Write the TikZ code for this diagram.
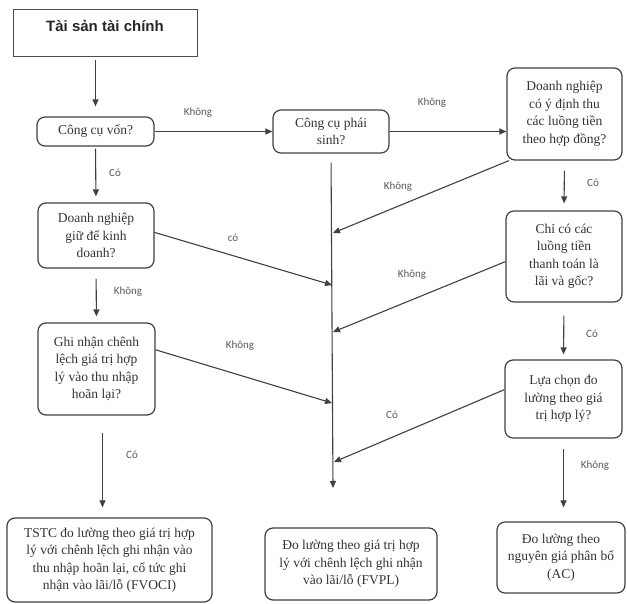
\documentclass[tikz,border=0pt]{standalone}
\usepackage{fontspec}
\setmainfont{Liberation Serif}
\newfontfamily\lblfont{Carlito}
\newfontfamily\headfont{Liberation Sans}
\usetikzlibrary{arrows.meta}
\tikzset{
	box/.style={draw=black!75, line width=1.2pt, rounded corners=8pt, inner sep=0pt, align=center, text=black!80, font=\fontsize{13.5}{17.5}\selectfont},
	headbox/.style={draw=black!70, line width=0.9pt, inner sep=0pt, text=black!85, font=\headfont\bfseries\fontsize{15}{18}\selectfont},
	lbl/.style={inner sep=0pt, text=black!65, font=\lblfont\fontsize{11}{13}\selectfont},
	arr/.style={draw=black!75, line width=1.1pt, -{Triangle[length=7pt,width=6pt]}},
}
\begin{document}
\begin{tikzpicture}[x=1pt, y=-1pt]
		%%%%% START %%%%%
		\useasboundingbox (0, 0) rectangle (627, 604);
		
		\node[headbox, minimum width=184pt, minimum height=47pt, text height=11pt, text depth=12pt] (title) at (105, 32.5) {Tài sản tài chính};
		
		\node[box, minimum width=117pt, minimum height=29pt] (vcv) at (95.5, 131.5) {Công cụ vốn?};
		\node[box, minimum width=116pt, minimum height=43pt] (ps) at (331, 131.5) {Công cụ phái\\sinh?};
		\node[box, minimum width=115pt, minimum height=92pt] (dnthu) at (564.5, 114) {Doanh nghiệp\\có ý định thu\\các luồng tiền\\theo hợp đồng?};
		
		\node[box, minimum width=116pt, minimum height=65pt] (dngiu) at (96, 235.5) {Doanh nghiệp\\giữ để kinh\\doanh?};
		\node[box, minimum width=116pt, minimum height=91pt] (chico) at (564, 256.5) {Chỉ có các\\luồng tiền\\thanh toán là\\lãi và gốc?};
		
		\node[box, minimum width=117pt, minimum height=92pt] (ghinhan) at (96.5, 369) {Ghi nhận chênh\\lệch giá trị hợp\\lý vào thu nhập\\hoãn lại?};
		\node[box, minimum width=117pt, minimum height=78pt] (luachon) at (563.5, 399) {Lựa chọn đo\\lường theo giá\\trị hợp lý?};
		
		\node[box, minimum width=205pt, minimum height=84pt] (tstc) at (109.5, 560) {TSTC đo lường theo giá trị hợp\\lý với chênh lệch ghi nhận vào\\thu nhập hoãn lại, cổ tức ghi\\nhận vào lãi/lỗ (FVOCI)};
		\node[box, minimum width=172pt, minimum height=72pt] (fvpl) at (351, 564) {Đo lường theo giá trị hợp\\lý với chênh lệch ghi nhận\\vào lãi/lỗ (FVPL)};
		\node[box, minimum width=128pt, minimum height=71pt] (ac) at (561, 557.5) {Đo lường theo\\nguyên giá phân bổ\\(AC)};
		
		% points on the trunk line
		\coordinate (j1) at (333, 233);
		\coordinate (j2) at (332, 285);
		\coordinate (j3) at (333, 332);
		\coordinate (j4) at (332, 403);
		\coordinate (j5) at (334, 462);
		\coordinate (vend) at (333, 488);
		
		\draw[arr, shorten <=4pt, shorten >=10pt] (title.south -| vcv.north) -- (vcv.north);
		\draw[arr] (vcv.east) -- (ps.west);
		\draw[arr] (ps.east) -- (ps.east -| dnthu.west);
		\draw[arr, shorten <=2pt, shorten >=6pt] (vcv.south) -- (dngiu.north);
		\draw[arr, shorten <=10pt, shorten >=6pt] (dngiu.south) -- (ghinhan.north);
		\draw[arr, shorten <=17pt, shorten >=10pt] ([xshift=6pt]ghinhan.south) -- ([xshift=6pt]ghinhan.south |- tstc.north);
		\draw[arr, shorten <=10pt, shorten >=7pt] (dnthu.south) -- (chico.north);
		\draw[arr, shorten <=13pt, shorten >=5pt] (chico.south) -- (luachon.north);
		\draw[arr, shorten <=10pt, shorten >=14pt] (luachon.south) -- (luachon.south |- ac.north);
		\draw[arr, shorten <=9pt] (ps.south) -- (vend);
		
		\draw[arr] (dnthu.220) -- (j1);
		\draw[arr] (dngiu.3) -- (j2);
		\draw[arr] (chico.185) -- (j3);
		\draw[arr] (ghinhan.18) -- (j4);
		\draw[arr] (luachon.171) -- (j5);
		
		\node[lbl] (lk1) at (198, 113) {Không};
		\node[lbl] (lk2) at (432, 103) {Không};
		\node[lbl] (lc1) at (115, 173) {Có};
		\node[lbl] (lk3) at (398, 187) {Không};
		\node[lbl] (lc2) at (593, 183) {Có};
		\node[lbl] (lc3) at (233, 238) {có};
		\node[lbl] (lk4) at (128, 292) {Không};
		\node[lbl] (lk5) at (412, 275) {Không};
		\node[lbl] (lc4) at (592, 334) {Có};
		\node[lbl] (lk6) at (240, 346) {Không};
		\node[lbl] (lc5) at (392, 415) {Có};
		\node[lbl] (lc6) at (132, 455) {Có};
		\node[lbl] (lk7) at (595, 466) {Không};
		
		%%%%% END %%%%%
\end{tikzpicture}
\end{document}
